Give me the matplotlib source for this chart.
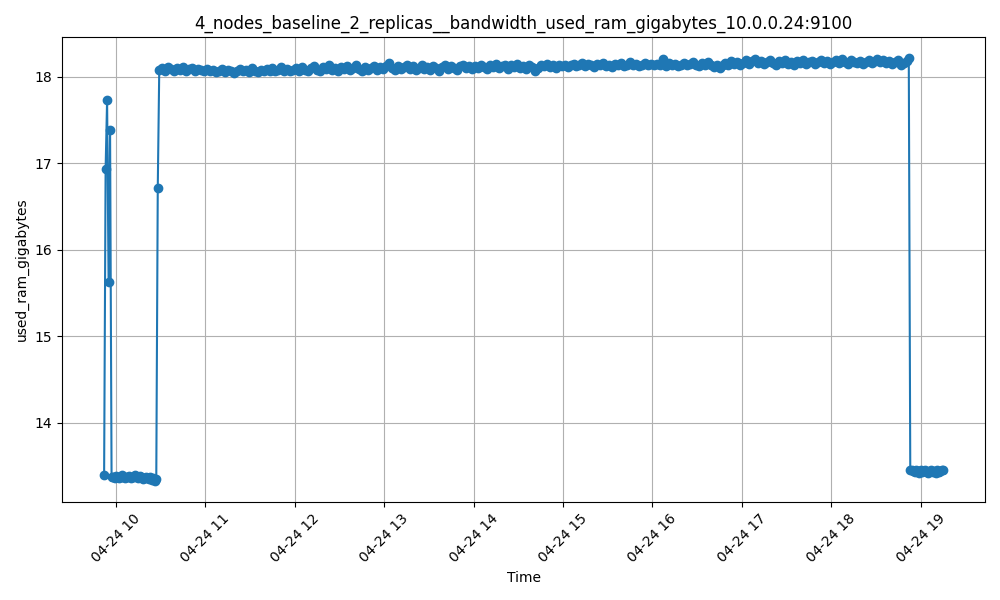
import matplotlib
matplotlib.use("Agg")
import matplotlib.pyplot as plt
import matplotlib.dates as mdates
import pandas as pd

title = "4_nodes_baseline_2_replicas__bandwidth_used_ram_gigabytes_10.0.0.24:9100"

# startup spikes (1-min samples from 09:52)
start_times = pd.date_range("2024-04-24 09:52", periods=5, freq="1min")
start_vals = [13.40, 16.93, 17.73, 15.63, 17.38]

# low plateau 09:57-10:27 (1-min samples)
low1_times = pd.date_range("2024-04-24 09:57", periods=31, freq="1min")
low1_vals = [13.37, 13.38, 13.36, 13.39, 13.37, 13.36, 13.38, 13.40, 13.37, 13.36,
             13.38, 13.37, 13.39, 13.36, 13.38, 13.37, 13.40, 13.38, 13.36, 13.39,
             13.37, 13.35, 13.36, 13.38, 13.36, 13.35, 13.37, 13.34, 13.36, 13.33,
             13.35]

# ramp point
ramp_times = pd.to_datetime(["2024-04-24 10:28"])
ramp_vals = [16.71]

# high plateau 10:29-18:51 (2-min samples) + 18:52
high_times = pd.date_range("2024-04-24 10:29", periods=252, freq="2min").append(
    pd.to_datetime(["2024-04-24 18:52"]))
high_vals = [
    # 10:29-10:59
    18.08, 18.10, 18.07, 18.11, 18.09, 18.06, 18.10, 18.08, 18.11, 18.07,
    18.09, 18.10, 18.06, 18.09, 18.08, 18.07,
    # 11:01-11:59
    18.09, 18.06, 18.08, 18.05, 18.07, 18.09, 18.05, 18.08, 18.06, 18.04,
    18.07, 18.09, 18.06, 18.08, 18.05, 18.10, 18.07, 18.05, 18.08, 18.06,
    18.09, 18.07, 18.10, 18.06, 18.08, 18.11, 18.07, 18.09, 18.06, 18.08,
    # 12:01-12:59
    18.10, 18.07, 18.11, 18.08, 18.06, 18.10, 18.12, 18.08, 18.07, 18.11,
    18.09, 18.13, 18.08, 18.10, 18.07, 18.11, 18.09, 18.12, 18.08, 18.10,
    18.13, 18.09, 18.07, 18.11, 18.08, 18.10, 18.12, 18.08, 18.11, 18.09,
    # 13:01-13:59
    18.12, 18.16, 18.10, 18.08, 18.12, 18.09, 18.11, 18.13, 18.09, 18.12,
    18.08, 18.10, 18.13, 18.09, 18.11, 18.08, 18.12, 18.10, 18.07, 18.11,
    18.13, 18.09, 18.12, 18.10, 18.08, 18.12, 18.14, 18.10, 18.12, 18.09,
    # 14:01-14:59
    18.12, 18.10, 18.14, 18.11, 18.09, 18.13, 18.11, 18.15, 18.10, 18.12,
    18.14, 18.09, 18.13, 18.11, 18.15, 18.10, 18.12, 18.09, 18.13, 18.11,
    18.07, 18.10, 18.14, 18.12, 18.15, 18.11, 18.13, 18.10, 18.14, 18.12,
    # 15:01-15:59
    18.14, 18.11, 18.13, 18.15, 18.12, 18.14, 18.16, 18.12, 18.15, 18.13,
    18.11, 18.15, 18.13, 18.16, 18.12, 18.14, 18.11, 18.15, 18.13, 18.16,
    18.12, 18.14, 18.17, 18.13, 18.15, 18.12, 18.14, 18.16, 18.13, 18.15,
    # 16:01-16:59
    18.13, 18.15, 18.14, 18.20, 18.12, 18.16, 18.13, 18.15, 18.12, 18.14,
    18.16, 18.13, 18.15, 18.17, 18.14, 18.12, 18.16, 18.14, 18.17, 18.13,
    18.11, 18.14, 18.10, 18.13, 18.16, 18.14, 18.18, 18.15, 18.17, 18.14,
    # 17:01-17:59
    18.16, 18.19, 18.15, 18.18, 18.20, 18.16, 18.18, 18.15, 18.17, 18.19,
    18.16, 18.14, 18.18, 18.16, 18.19, 18.15, 18.17, 18.14, 18.18, 18.16,
    18.19, 18.15, 18.17, 18.18, 18.15, 18.17, 18.19, 18.16, 18.18, 18.15,
    # 18:01-18:51
    18.17, 18.19, 18.16, 18.20, 18.17, 18.15, 18.19, 18.17, 18.16, 18.18,
    18.15, 18.17, 18.19, 18.16, 18.18, 18.20, 18.17, 18.19, 18.16, 18.18,
    18.15, 18.17, 18.19, 18.14, 18.16, 18.18,
    # 18:52
    18.21,
]

# low tail 18:53-19:15 (1-min samples)
low2_times = pd.date_range("2024-04-24 18:53", periods=23, freq="1min")
low2_vals = [13.46, 13.45, 13.44, 13.43, 13.45, 13.44, 13.42, 13.45, 13.43, 13.44,
             13.46, 13.43, 13.42, 13.44, 13.45, 13.43, 13.44, 13.42, 13.45, 13.43,
             13.44, 13.46, 13.45]

times = (start_times.append(low1_times).append(ramp_times)
         .append(high_times).append(low2_times))
values = start_vals + low1_vals + ramp_vals + high_vals + low2_vals

fig, ax = plt.subplots(figsize=(10, 6), dpi=100)
ax.plot(times, values, marker="o", linestyle="-", color="#1f77b4")
ax.set_title(title)
ax.set_xlabel("Time")
ax.set_ylabel("used_ram_gigabytes")
ax.grid(True)
ax.xaxis.set_major_locator(mdates.HourLocator())
ax.xaxis.set_major_formatter(mdates.DateFormatter("%m-%d %H"))
plt.setp(ax.get_xticklabels(), rotation=45)
fig.tight_layout()
fig.savefig("out.png")
